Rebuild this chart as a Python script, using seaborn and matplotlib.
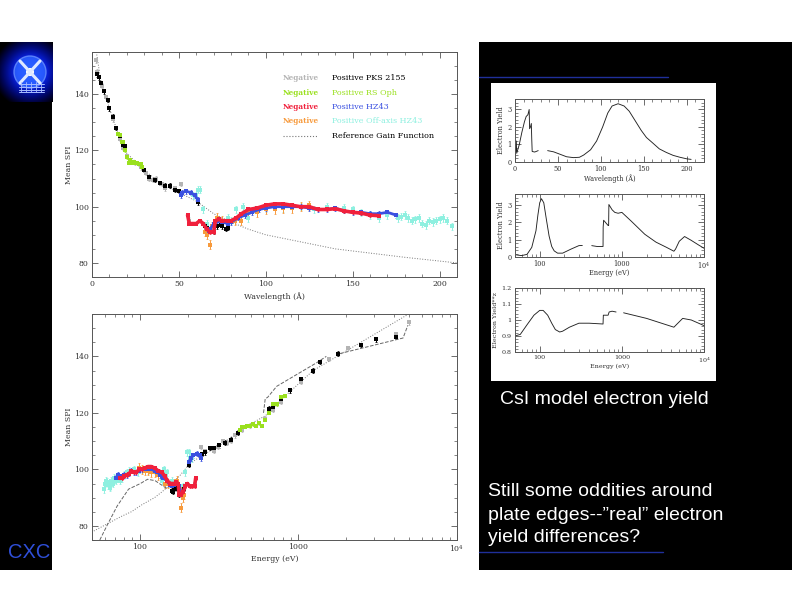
import matplotlib
matplotlib.use('Agg')
import matplotlib.pyplot as plt
from matplotlib.patches import Circle, Rectangle
from matplotlib.ticker import FixedLocator, FixedFormatter, MultipleLocator, NullFormatter
import numpy as np
import pandas as pd
import seaborn as sns

# wavelength [A] / mean SPI
gray_wl = [2.5, 3, 4, 5, 6, 8, 10, 12, 14, 16, 18, 20, 22, 25, 28, 31, 33, 35, 37, 40, 42, 45, 48, 50, 51]
gray_spi = [152, 148, 146, 144, 143, 139, 135, 131, 128, 124, 121, 118, 116.5, 115.5, 114, 112, 110, 109.5, 110, 108, 106.5, 107.5, 106.5, 105.5, 108]
black_wl = [3, 4, 5, 7, 9, 10, 12, 14, 16, 18, 19, 30, 33, 36, 39, 42, 45, 48, 50, 61, 65, 66, 68, 70, 72, 74, 75, 77, 78]
black_spi = [147, 146, 144, 141, 138, 135, 132, 128, 125, 122, 121.5, 113, 110.5, 109.5, 108.5, 107.5, 107.5, 106, 105.5, 101.5, 93, 92.5, 91.5, 91, 93, 93.5, 93, 92, 92.5]
green_wl = [15, 16, 17, 18, 19, 20, 21, 22, 23, 24, 25, 26, 27, 28, 29]
green_spi = [126, 125.5, 123, 123, 120, 117.5, 115.5, 116.5, 115.5, 116, 115.5, 115.5, 115, 115, 114]
red_wl = [55, 56, 58, 60, 62, 64, 66, 68, 70, 71, 73, 75, 78, 80, 83, 86, 90, 95, 100, 105, 110, 115, 120, 125, 130, 135, 140, 145, 150, 155, 160, 165]
red_spi = [97, 94, 94, 94, 95, 94, 92, 91, 91, 95, 95.5, 95, 95, 95, 96, 97.5, 99, 99.5, 100.5, 101, 101, 100.5, 100, 100, 99, 99, 99.3, 98.5, 98, 97.7, 97, 96.8]
blue_wl_a = [51, 52, 54, 57, 59, 61]
blue_spi_a = [104, 105, 105.5, 105, 104, 102.5]
blue_wl_b = [66, 68, 70, 72, 75, 78, 80, 84, 88, 92, 96, 100, 105, 110, 115, 120, 125, 130, 135, 140, 145, 150, 155, 160, 165, 170, 175]
blue_spi_b = [92, 92, 94, 95, 94.5, 94, 94.5, 96, 97, 98, 99, 99.5, 100, 100, 100, 100, 99.5, 99, 99, 99.5, 98.5, 98, 98, 97.5, 97.5, 98, 97]
orange_wl = [65, 66, 68, 69, 72, 75, 78, 82, 86, 90, 95, 100, 105, 110, 115, 120, 125]
orange_spi = [91, 90, 86.5, 93, 96, 95, 95, 95, 95, 98, 98, 99, 99, 99.5, 99.5, 100, 100.5]
cyan_wl = [56, 58, 60, 61, 62, 64, 66, 70, 78, 80, 83, 87, 90, 94, 100, 110, 120, 128, 135, 145, 150, 155, 160, 165, 170, 176,
           178, 180, 182, 184, 186, 188, 190, 192, 194, 196, 198, 200, 202, 204, 207]
cyan_spi = [95, 104, 104, 106, 106, 99, 94, 92, 96, 95, 99, 100, 96, 99, 99.5, 99.5, 100, 99, 100, 99.5, 99, 98, 97, 96, 97, 96,
            96.5, 97, 96, 95, 95.5, 96, 94, 93.5, 95, 94.5, 95, 95.5, 96, 95, 93]
reference_wl = [2.5, 5, 10, 15, 20, 25, 30, 40, 50, 60, 70, 80, 90, 100, 120, 140, 160, 180, 210, 245]
reference_spi = [155, 145, 135, 126, 119, 116, 113, 108, 105, 102, 97.5, 94.5, 92, 90, 87.5, 85, 83.5, 82, 80, 78]

# modified gain function, lower panel [eV]
mod_upper_e = [56, 62, 72, 85, 101, 112, 125, 150]
mod_upper_spi = [75, 80, 87, 93, 95, 96.5, 96, 93]
mod_mid_e = [603, 618, 640, 730, 1300, 1500]
mod_mid_spi = [120, 125, 125.5, 129.4, 137.7, 140]
mod_low_e = [1830, 4570, 4900]
mod_low_spi = [141, 146.5, 151]

# electron yield panels
yield_wl = [0, 1.5, 2, 5, 8, 11, 13, 15, 16.5, 17, 18, 19, 19.5, 20, 23, 27]
yield_wl_val = [0, 1.2, 0.5, 1.0, 1.7, 2.3, 2.6, 2.7, 3.0, 1.9, 2.0, 2.2, 1.3, 0.6, 0.57, 0.65]
yield_wl2 = [38, 45, 52, 60, 68, 75, 80, 88, 95, 102, 108, 113, 120, 127, 133, 140, 147, 153, 160, 168, 176, 184, 192, 200, 205]
yield_wl2_val = [0.65, 0.58, 0.45, 0.3, 0.25, 0.27, 0.4, 0.7, 1.2, 2.0, 2.8, 3.2, 3.33, 3.2, 2.9, 2.35, 1.8, 1.4, 1.1, 0.75, 0.55, 0.38, 0.27, 0.18, 0.15]
yield_e1 = [52, 60, 70, 80, 90, 95, 100, 105, 112, 120, 130, 140, 150, 165, 190, 240, 300, 330]
yield_e1_val = [0.12, 0.08, 0.15, 0.55, 1.5, 2.4, 3.1, 3.33, 3.1, 2.2, 1.2, 0.6, 0.35, 0.22, 0.22, 0.45, 0.65, 0.66]
yield_e2 = [430, 500, 590, 592, 600, 680, 690, 695, 760, 820, 900, 1000, 1300, 1900, 2600, 3500, 4300, 4500, 5000, 5800, 7000, 8500, 10000]
yield_e2_val = [0.65, 0.6, 0.6, 1.7, 2.1, 1.8, 1.8, 3.0, 2.7, 2.55, 2.5, 2.55, 2.05, 1.3, 0.85, 0.55, 0.33, 0.45, 0.9, 1.17, 0.95, 0.7, 0.5]
ratio_e1 = [50, 58, 70, 85, 100, 110, 125, 140, 155, 175, 190, 230, 300, 400, 590, 595, 680, 700, 760, 850]
ratio_e1_val = [0.9, 0.91, 0.97, 1.03, 1.06, 1.06, 1.03, 0.98, 0.94, 0.925, 0.93, 0.955, 0.98, 0.98, 0.975, 1.03, 1.03, 1.05, 1.055, 1.05]
ratio_e2 = [1050, 2000, 4300, 4700, 5500, 7000, 10000]
ratio_e2_val = [1.045, 1.01, 0.955, 0.975, 1.01, 1.0, 0.965]

legend_neg = ['Negative', 'Negative', 'Negative', 'Negative']
legend_pos = ['Positive PKS 2155', 'Positive RS Oph', 'Positive HZ43', 'Positive Off-axis HZ43', 'Reference Gain Function']

GRAY = '#b4b4b4'
GREEN = '#9ae01e'
RED = '#f0203c'
BLUE = '#3a50e0'
ORANGE = '#f79a3c'
CYAN = '#8ef0e0'
HC = 12398.0
W, H = 792.0, 612.0
SERIF = 'DejaVu Serif'

sns.set_theme(style='white')
plt.rcParams['font.family'] = ['Liberation Sans', 'DejaVu Sans']
plt.rcParams['mathtext.fontset'] = 'dejavuserif'
fig = plt.figure(figsize=(7.92, 6.12), dpi=100, facecolor='white')


def axes_px(left, top, right, bottom):
    return fig.add_axes([left / W, 1 - bottom / H, (right - left) / W, (bottom - top) / H])


def points(ax, x, y, color, size=7, err=1.0, lw=0.0):
    df = pd.DataFrame({'x': x, 'y': y})
    ax.errorbar(df['x'], df['y'], yerr=err, fmt='none', ecolor=color, elinewidth=0.7, capsize=1, capthick=0.5, zorder=2)
    if lw > 0:
        sns.lineplot(data=df, x='x', y='y', color=color, linewidth=lw, estimator=None, sort=False, ax=ax, zorder=3)
    sns.scatterplot(data=df, x='x', y='y', color=color, marker='s', s=size, linewidth=0, ax=ax, zorder=3)


def curve(ax, x, y, color='#222222', lw=0.65, ls='-'):
    sns.lineplot(x=x, y=y, color=color, linewidth=lw, linestyle=ls, estimator=None, sort=False, ax=ax)


def finish(ax, xlabel, ylabel, fs=5.6, label_x=-0.052, xlab_y=-0.066):
    ax.set_xlabel(xlabel, family=SERIF, fontsize=fs, color='#333333')
    ax.set_ylabel(ylabel, family=SERIF, fontsize=fs, color='#333333')
    ax.yaxis.set_label_coords(label_x, 0.5)
    ax.xaxis.set_label_coords(0.5, xlab_y)
    ax.tick_params(which='both', direction='in', top=True, right=True, bottom=True, left=True,
                   labelsize=fs, labelcolor='#333333', color='#555555', pad=2.5)
    ax.tick_params(which='major', length=4, width=0.6)
    ax.tick_params(which='minor', length=2, width=0.5)
    for lab in ax.get_xticklabels() + ax.get_yticklabels():
        lab.set_family(SERIF)
    for s in ax.spines.values():
        s.set_color('#555555')
        s.set_linewidth(0.7)


def log_energy(ax):
    ax.set_xscale('log')
    ax.set_xlim(50, 10000)
    ax.xaxis.set_major_locator(FixedLocator([100, 1000, 10000]))
    ax.xaxis.set_major_formatter(FixedFormatter(['100', '1000', '10$^4$']))
    ax.xaxis.set_minor_locator(FixedLocator([50, 60, 70, 80, 90, 200, 300, 400, 500, 600, 700, 800, 900,
                                             2000, 3000, 4000, 5000, 6000, 7000, 8000, 9000]))
    ax.xaxis.set_minor_formatter(NullFormatter())


def spi_axis(ax):
    ax.set_ylim(75, 155)
    ax.yaxis.set_major_locator(MultipleLocator(20))
    ax.yaxis.set_minor_locator(MultipleLocator(5))


def draw_series(ax, conv):
    curve(ax, [conv(v) for v in reference_wl], reference_spi, color='#777777', lw=0.7, ls=':')
    points(ax, [conv(v) for v in cyan_wl], cyan_spi, CYAN, size=9, err=1.3)
    points(ax, [conv(v) for v in gray_wl], gray_spi, GRAY, size=6, err=0.8)
    points(ax, [conv(v) for v in black_wl], black_spi, 'black', size=5, err=0.8)
    points(ax, [conv(v) for v in green_wl], green_spi, GREEN, size=9, err=0.5)
    points(ax, [conv(v) for v in orange_wl], orange_spi, ORANGE, size=7, err=1.6)
    points(ax, [conv(v) for v in blue_wl_a], blue_spi_a, BLUE, size=7, err=0.9, lw=2.0)
    points(ax, [conv(v) for v in blue_wl_b], blue_spi_b, BLUE, size=7, err=0.9, lw=2.0)
    points(ax, [conv(v) for v in red_wl], red_spi, RED, size=7, err=0.6, lw=2.6)


# page background, drawn in pixel coordinates
bg = fig.add_axes([0, 0, 1, 1], zorder=-5)
bg.set_xlim(0, W)
bg.set_ylim(H, 0)
bg.axis('off')
bg.add_patch(Rectangle((0, 42), W, 528, color='black', lw=0))
bg.add_patch(Rectangle((52, 42), 427, 528, color='white', lw=0))
bg.add_patch(Rectangle((491, 83), 225, 298, color='white', lw=0))
bg.plot([479, 668], [77, 77], color='#1f2f9a', lw=1)
bg.plot([479, 663], [552, 552], color='#1f2f9a', lw=1)
bg.text(8, 553, 'CXC', color='#2f4fd8', fontsize=14.5, va='center', ha='left')
bg.text(500, 399, 'CsI model electron yield', color='white', fontsize=14, va='center', ha='left')
bg.text(488, 491, 'Still some oddities around', color='white', fontsize=14, va='center', ha='left')
bg.text(488, 516, 'plate edges--\u201dreal\u201d electron', color='white', fontsize=14, va='center', ha='left')
bg.text(488, 538, 'yield differences?', color='white', fontsize=14, va='center', ha='left')

# logo
logo = fig.add_axes([0, 1 - 102 / H, 52 / W, 60 / H], zorder=-4)
logo.axis('off')
gx, gy = np.meshgrid(np.arange(52) + 0.5, np.arange(42, 102) + 0.5)
dist = np.hypot(gx - 30, gy - 72)
glow = np.clip(1.15 - dist / 32, 0, 1)
img = np.dstack([0.12 * glow ** 3, 0.3 * glow ** 2, np.clip(glow * 1.3, 0, 1)])
logo.imshow(img, extent=[0, 52, 102, 42], aspect='auto', interpolation='bilinear')
logo.add_patch(Circle((30, 72), 16, fc='#3068ff', ec='#6f96ff', lw=1, alpha=0.75))
logo.plot([20, 40], [61, 83], color='#dfe9ff', lw=2.2)
logo.plot([40, 20], [61, 83], color='#dfe9ff', lw=2.2)
logo.add_patch(Circle((30, 72), 4, fc='white', ec='none'))
for yy in [84, 87, 90, 92]:
    logo.plot([19, 44], [yy, yy], color='#a8bcff', lw=0.7)
for xx in [21, 26, 31, 36, 41]:
    logo.plot([xx, xx], [82, 92], color='#a8bcff', lw=0.6)
logo.set_xlim(0, 52)
logo.set_ylim(102, 42)

# wavelength panel
ax1 = axes_px(92, 52, 457, 277)
draw_series(ax1, lambda v: v)
ax1.set_xlim(0, 210)
spi_axis(ax1)
ax1.xaxis.set_major_locator(MultipleLocator(50))
ax1.xaxis.set_minor_locator(MultipleLocator(10))
finish(ax1, 'Wavelength (\u00c5)', 'Mean SPI')

# energy panel
ax2 = axes_px(92, 314, 457, 540)
draw_series(ax2, lambda v: HC / v)
curve(ax2, mod_upper_e, mod_upper_spi, color='#666666', lw=0.7, ls='--')
curve(ax2, mod_mid_e, mod_mid_spi, color='#666666', lw=0.7, ls='--')
curve(ax2, mod_low_e, mod_low_spi, color='#666666', lw=0.7, ls='--')
log_energy(ax2)
spi_axis(ax2)
finish(ax2, 'Energy (eV)', 'Mean SPI')
bg.text(184, 378, 'Modified gain function', family=SERIF, fontsize=6.2, color='#555555', va='center')

# legend of the wavelength panel
legend_y = [78, 93, 107, 121, 136]
neg_colors = [GRAY, GREEN, RED, ORANGE]
pos_colors = ['black', GREEN, BLUE, CYAN, 'black']
leg = fig.add_axes([0, 0, 1, 1], zorder=5)
leg.set_xlim(0, W)
leg.set_ylim(H, 0)
leg.axis('off')
leg.patch.set_alpha(0)
for label, yy, col in zip(legend_neg, legend_y, neg_colors):
    leg.text(283, yy, label, family=SERIF, fontsize=5.2, weight='bold', color=col, va='center')
for label, yy, col in zip(legend_pos, legend_y, pos_colors):
    leg.text(332, yy, label, family=SERIF, fontsize=5.75, color=col, va='center')
leg.plot([283, 317], [136, 136], color='#777777', lw=0.8, ls=':')

# yield panels
ax3 = axes_px(515, 99, 704, 162)
curve(ax3, yield_wl, yield_wl_val)
curve(ax3, yield_wl2, yield_wl2_val)
ax3.set_xlim(0, 220)
ax3.set_ylim(0, 3.6)
ax3.xaxis.set_major_locator(MultipleLocator(50))
ax3.xaxis.set_minor_locator(MultipleLocator(10))
ax3.yaxis.set_major_locator(MultipleLocator(1))
ax3.yaxis.set_minor_locator(MultipleLocator(0.2))
finish(ax3, 'Wavelength (\u00c5)', 'Electron Yield', fs=4.8, label_x=-0.053, xlab_y=-0.19)

ax4 = axes_px(515, 194, 704, 257)
curve(ax4, yield_e1, yield_e1_val)
curve(ax4, yield_e2, yield_e2_val)
log_energy(ax4)
ax4.set_ylim(0, 3.6)
ax4.yaxis.set_major_locator(MultipleLocator(1))
ax4.yaxis.set_minor_locator(MultipleLocator(0.2))
finish(ax4, 'Energy (eV)', 'Electron Yield', fs=4.8, label_x=-0.053, xlab_y=-0.19)

ax5 = axes_px(515, 288, 704, 352)
curve(ax5, ratio_e1, ratio_e1_val)
curve(ax5, ratio_e2, ratio_e2_val)
log_energy(ax5)
ax5.set_ylim(0.8, 1.2)
ax5.yaxis.set_major_locator(FixedLocator([0.8, 0.9, 1.0, 1.1, 1.2]))
ax5.yaxis.set_major_formatter(FixedFormatter(['0.8', '0.9', '1', '1.1', '1.2']))
ax5.yaxis.set_minor_locator(MultipleLocator(0.02))
finish(ax5, 'Energy (eV)', 'Electron Yield**z', fs=4.6, label_x=-0.09, xlab_y=-0.19)

fig.savefig('out.png', dpi=100)
